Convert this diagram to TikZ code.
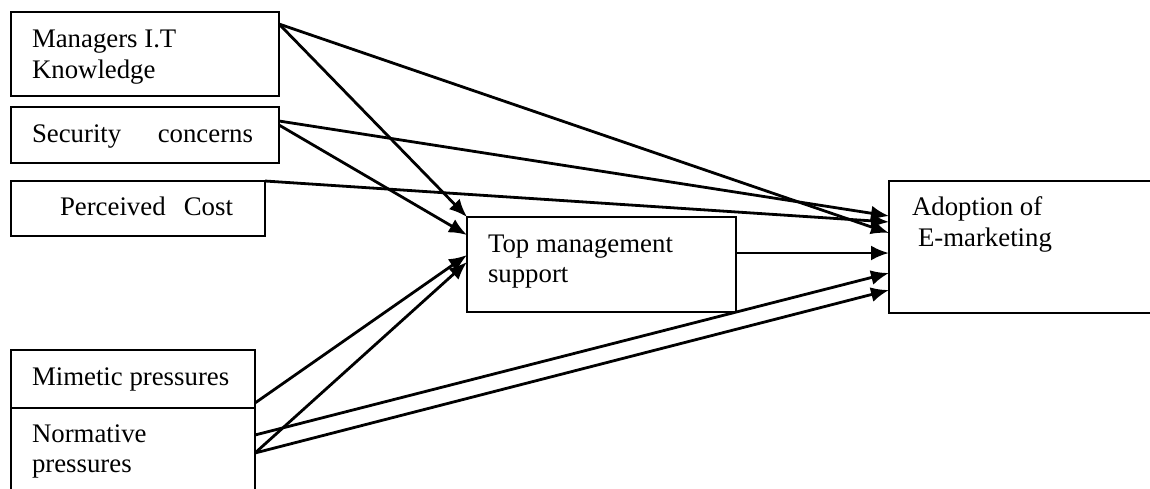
\documentclass[tikz,border=0pt]{standalone}
\usepackage{fontspec}
\setmainfont{Liberation Serif}
\usetikzlibrary{arrows.meta}
\begin{document}
\begin{tikzpicture}[x=1pt,y=-1pt,
  box/.style={draw, line width=2.4pt, inner sep=0pt, outer sep=0pt, anchor=north west},
  lbl/.style={anchor=base west, inner sep=0pt, outer sep=0pt, font=\fontsize{26.8}{30}\selectfont},
  arr/.style={line width=2.8pt, -{Latex[length=18pt,width=15pt]}}]
\useasboundingbox (0,0) rectangle (1150,488);
% boxes
\node[box, minimum width=268pt, minimum height=84pt] (mgr) at (11,12) {};
\node[box, minimum width=268pt, minimum height=56pt] (sec) at (11,107) {};
\node[box, minimum width=254pt, minimum height=55pt] (cost) at (11,181) {};
\node[box, minimum width=244pt, minimum height=58pt] (mim) at (11,350) {};
\node[box, minimum width=244pt, minimum height=100pt] (nor) at (11,408) {};
\node[box, minimum width=269pt, minimum height=95pt] (tms) at (467,217) {};
\node[box, minimum width=300pt, minimum height=132pt] (adp) at (889,181) {};
% labels
\node[lbl] (t1) at (32,47) {Managers I.T};
\node[lbl] (t2) at (32,78) {Knowledge};
\node[lbl] (t3) at (32,142) {\makebox[221pt][s]{Security\hfill concerns}};
\node[lbl] (t4) at (60,215) {\makebox[173pt][s]{Perceived\hfill Cost}};
\node[lbl] (t5) at (32,385) {Mimetic pressures};
\node[lbl] (t6) at (32,442) {Normative};
\node[lbl] (t7) at (32,472) {pressures};
\node[lbl] (t8) at (488,252) {Top management};
\node[lbl] (t9) at (488,282) {support};
\node[lbl] (t10) at (912,215) {Adoption of};
\node[lbl] (t11) at (918,246) {E-marketing};
% connectors
\draw[arr] ([yshift=-12pt]mgr.north east) -- (tms.north west);
\draw[arr] ([yshift=-12pt]mgr.north east) -- ([yshift=-52pt]adp.north west);
\draw[arr] ([yshift=-14pt]sec.north east) -- ([yshift=-35pt]adp.north west);
\draw[arr] ([yshift=-18pt]sec.north east) -- ([yshift=-18pt]tms.north west);
\draw[arr] (cost.north east) -- ([yshift=-41pt]adp.north west);
\draw[arr] ([yshift=5pt]mim.south east) -- ([yshift=-38pt]tms.north west);
\draw[arr] ([yshift=-27pt]nor.north east) -- ([yshift=-92pt]adp.north west);
\draw[arr] ([yshift=-45pt]nor.north east) -- ([yshift=-45pt]tms.north west);
\draw[arr] ([yshift=-45pt]nor.north east) -- ([yshift=-109pt]adp.north west);
\draw[arr] ([yshift=-36pt]tms.north east) -- ([yshift=-72pt]adp.north west);
\end{tikzpicture}
\end{document}
